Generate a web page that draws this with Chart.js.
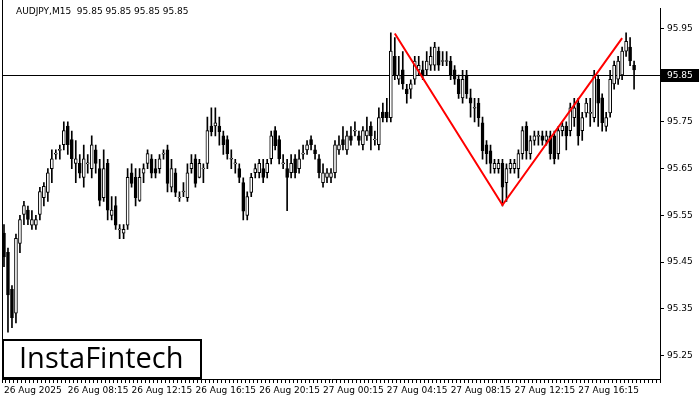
<!DOCTYPE html>
<html>
<head>
<meta charset="utf-8">
<script src="https://cdn.jsdelivr.net/npm/chart.js@4.4.1/dist/chart.umd.min.js"></script>
<style>
  html, body { margin: 0; padding: 0; background: #fff; }
  #wrap { width: 700px; height: 400px; }
</style>
</head>
<body>
<div id="wrap"><canvas id="c"></canvas></div>
<script>
var symbolTitle = 'AUDJPY,M15  95.85 95.85 95.85 95.85';
var currentPrice = 95.85;
var slotCount = 165;
var timeLabels = ['26 Aug 2025', '26 Aug 08:15', '26 Aug 12:15', '26 Aug 16:15', '26 Aug 20:15',
                  '27 Aug 00:15', '27 Aug 04:15', '27 Aug 08:15', '27 Aug 12:15', '27 Aug 16:15'];
var yTicks = [95.25, 95.35, 95.45, 95.55, 95.65, 95.75, 95.85, 95.95];

var opens = [95.512,95.471,95.392,95.341,95.490,95.552,95.561,95.529,95.529,95.552,95.588,95.599,95.650,95.681,95.689,95.701,
  95.741,95.712,95.661,95.661,95.631,95.660,95.650,95.690,95.650,95.588,95.661,95.550,95.571,95.519,95.512,95.529,
  95.641,95.631,95.582,95.640,95.661,95.671,95.650,95.650,95.681,95.690,95.610,95.641,95.587,95.600,95.588,95.650,
  95.671,95.631,95.649,95.661,95.741,95.741,95.741,95.720,95.712,95.670,95.660,95.650,95.620,95.550,95.599,95.641,
  95.641,95.650,95.641,95.671,95.731,95.712,95.660,95.650,95.641,95.671,95.650,95.681,95.690,95.712,95.690,95.671,
  95.620,95.631,95.631,95.641,95.690,95.712,95.690,95.720,95.730,95.720,95.701,95.720,95.741,95.711,95.701,95.771,
  95.771,95.759,95.890,95.841,95.861,95.820,95.820,95.841,95.861,95.861,95.861,95.871,95.871,95.901,95.879,95.879,
  95.880,95.861,95.841,95.801,95.850,95.801,95.779,95.790,95.748,95.701,95.688,95.650,95.650,95.661,95.620,95.650,
  95.650,95.650,95.682,95.741,95.682,95.710,95.719,95.720,95.710,95.720,95.720,95.682,95.731,95.741,95.731,95.759,
  95.790,95.731,95.769,95.768,95.759,95.841,95.801,95.740,95.769,95.831,95.841,95.850,95.901,95.910,95.871];
var closes = [95.461,95.380,95.331,95.501,95.541,95.571,95.541,95.541,95.541,95.601,95.612,95.641,95.671,95.683,95.691,95.731,
  95.701,95.671,95.671,95.640,95.671,95.662,95.701,95.661,95.582,95.650,95.561,95.561,95.529,95.521,95.520,95.631,
  95.618,95.588,95.631,95.650,95.682,95.640,95.640,95.671,95.683,95.618,95.650,95.599,95.589,95.602,95.641,95.661,
  95.618,95.661,95.651,95.731,95.729,95.748,95.729,95.701,95.682,95.672,95.662,95.631,95.559,95.590,95.631,95.650,
  95.661,95.631,95.661,95.720,95.699,95.671,95.662,95.631,95.661,95.641,95.671,95.683,95.701,95.701,95.682,95.641,
  95.641,95.641,95.641,95.701,95.701,95.701,95.720,95.710,95.732,95.710,95.731,95.731,95.720,95.713,95.759,95.759,
  95.759,95.901,95.850,95.850,95.831,95.810,95.831,95.880,95.871,95.850,95.880,95.890,95.910,95.871,95.881,95.881,
  95.850,95.841,95.810,95.841,95.810,95.790,95.781,95.759,95.688,95.682,95.661,95.661,95.661,95.610,95.650,95.661,
  95.661,95.682,95.731,95.688,95.710,95.720,95.721,95.710,95.720,95.682,95.671,95.731,95.741,95.720,95.780,95.780,
  95.720,95.759,95.790,95.770,95.850,95.790,95.748,95.759,95.841,95.871,95.880,95.901,95.922,95.880,95.861];
var highs = [95.53,95.48,95.40,95.51,95.55,95.58,95.57,95.56,95.55,95.61,95.62,95.65,95.69,95.69,95.70,95.75,
  95.75,95.73,95.71,95.68,95.70,95.68,95.72,95.70,95.67,95.69,95.67,95.59,95.59,95.53,95.53,95.65,
  95.66,95.65,95.65,95.66,95.69,95.68,95.67,95.68,95.69,95.70,95.67,95.65,95.60,95.62,95.66,95.68,
  95.68,95.67,95.66,95.76,95.78,95.78,95.76,95.73,95.72,95.69,95.67,95.66,95.63,95.60,95.64,95.66,
  95.67,95.67,95.67,95.73,95.74,95.72,95.68,95.67,95.68,95.68,95.69,95.70,95.71,95.72,95.70,95.68,
  95.66,95.65,95.65,95.71,95.72,95.74,95.73,95.74,95.75,95.73,95.74,95.76,95.75,95.73,95.78,95.79,
  95.80,95.94,95.93,95.89,95.90,95.83,95.84,95.89,95.89,95.88,95.90,95.91,95.92,95.91,95.90,95.90,
  95.89,95.87,95.85,95.86,95.86,95.82,95.80,95.80,95.76,95.71,95.70,95.67,95.67,95.67,95.66,95.67,
  95.67,95.69,95.74,95.75,95.72,95.73,95.73,95.73,95.73,95.73,95.73,95.74,95.75,95.75,95.79,95.80,
  95.80,95.77,95.80,95.80,95.86,95.85,95.81,95.77,95.86,95.88,95.89,95.91,95.94,95.93,95.88];
var lows = [95.44,95.30,95.31,95.32,95.47,95.53,95.53,95.52,95.52,95.54,95.57,95.58,95.62,95.67,95.67,95.69,
  95.68,95.65,95.62,95.63,95.61,95.64,95.63,95.64,95.57,95.58,95.54,95.54,95.52,95.50,95.50,95.52,
  95.61,95.57,95.58,95.62,95.65,95.63,95.63,95.64,95.67,95.60,95.60,95.59,95.58,95.59,95.58,95.64,
  95.61,95.63,95.62,95.65,95.72,95.72,95.70,95.68,95.67,95.65,95.64,95.62,95.54,95.54,95.59,95.63,
  95.63,95.62,95.63,95.66,95.69,95.66,95.65,95.56,95.63,95.63,95.64,95.67,95.68,95.69,95.67,95.63,
  95.61,95.62,95.62,95.63,95.68,95.69,95.68,95.70,95.72,95.70,95.69,95.71,95.69,95.70,95.69,95.75,
  95.75,95.75,95.84,95.83,95.82,95.79,95.80,95.83,95.85,95.84,95.85,95.86,95.86,95.86,95.87,95.87,
  95.84,95.83,95.80,95.79,95.80,95.76,95.75,95.74,95.67,95.66,95.64,95.64,95.64,95.57,95.58,95.64,
  95.64,95.63,95.67,95.67,95.67,95.70,95.70,95.70,95.70,95.67,95.66,95.67,95.72,95.69,95.72,95.74,
  95.70,95.71,95.76,95.74,95.75,95.74,95.73,95.73,95.76,95.82,95.83,95.84,95.89,95.87,95.82];

// double bottom pattern: bar index -> price
var patternIdx = [98, 125, 155];
var patternPrice = [95.939, 95.572, 95.929];

var labels = [];
for (var i = 0; i < slotCount; i++) {
  labels.push(i % 16 === 0 && timeLabels[i / 16] ? timeLabels[i / 16] : '');
}
var bodies = [], wicks = [], bodyFill = [];
for (var i = 0; i < opens.length; i++) {
  bodies.push([opens[i], closes[i]]);
  wicks.push([lows[i], highs[i]]);
  bodyFill.push(closes[i] >= opens[i] ? '#ffffff' : '#000000');
}
var pattern = labels.map(function () { return null; });
patternIdx.forEach(function (ix, k) { pattern[ix] = patternPrice[k]; });

var font = { family: 'DejaVu Sans', size: 9 };

var extras = {
  id: 'extras',
  beforeDatasetsDraw: function (chart) {
    var ctx = chart.ctx, a = chart.chartArea, y = chart.scales.y;
    var py = Math.round(y.getPixelForValue(currentPrice)) + 0.5;
    ctx.save();
    ctx.strokeStyle = '#000';
    ctx.lineWidth = 1;
    ctx.beginPath();
    ctx.moveTo(a.left, py); ctx.lineTo(a.right, py);
    ctx.moveTo(a.left + 0.5, 0); ctx.lineTo(a.left + 0.5, a.bottom);
    ctx.stroke();
    ctx.restore();
  },
  afterDraw: function (chart) {
    var ctx = chart.ctx, a = chart.chartArea, y = chart.scales.y;
    var py = Math.round(y.getPixelForValue(currentPrice));
    ctx.save();
    ctx.fillStyle = '#000';
    ctx.font = '9px "DejaVu Sans"';
    ctx.textBaseline = 'middle';
    ctx.fillText(symbolTitle, 16, 12);
    ctx.fillRect(a.right + 1, py - 6, 38, 13);
    ctx.fillStyle = '#fff';
    ctx.fillText(currentPrice.toFixed(2), a.right + 7, py + 1);
    // logo
    ctx.fillStyle = '#fff';
    ctx.fillRect(3, 340, 198, 38);
    ctx.strokeStyle = '#000';
    ctx.lineWidth = 2;
    ctx.strokeRect(3, 340, 198, 38);
    ctx.fillStyle = '#000';
    ctx.font = '29px "Open Sans"';
    ctx.fillText('InstaFintech', 19, 360);
    ctx.restore();
  }
};

new Chart(document.getElementById('c'), {
  data: {
    labels: labels,
    datasets: [
      { type: 'line', data: pattern, spanGaps: true, borderColor: '#ff0000', borderWidth: 2,
        pointRadius: 0, order: -1 },
      { type: 'bar', data: bodies, backgroundColor: bodyFill, borderColor: '#000', borderWidth: 1,
        borderSkipped: false, barThickness: 3, grouped: false, order: 0 },
      { type: 'bar', data: wicks, backgroundColor: '#000', borderWidth: 0,
        barThickness: 1, grouped: false, order: 1 }
    ]
  },
  options: {
    responsive: true, maintainAspectRatio: false, animation: false,
    layout: { padding: { top: 0, left: 2, right: 0, bottom: 0 } },
    plugins: { legend: { display: false }, tooltip: { enabled: false } },
    scales: {
      x: {
        type: 'category', offset: true,
        grid: { drawOnChartArea: false, tickLength: 4, color: '#000' },
        border: { color: '#000' },
        ticks: { autoSkip: false, maxRotation: 0, align: 'start', color: '#000', font: font, padding: 2 },
        afterFit: function (s) { s.height = 21; }
      },
      y: {
        position: 'right', min: 95.2, max: 95.9925,
        afterBuildTicks: function (s) { s.ticks = yTicks.map(function (v) { return { value: v }; }); },
        grid: { drawOnChartArea: false, tickLength: 4, color: '#000' },
        border: { color: '#000' },
        ticks: { color: '#000', font: font, padding: 3, callback: function (v) { return v.toFixed(2); } },
        afterFit: function (s) { s.width = 40; }
      }
    }
  },
  plugins: [extras]
});
</script>
</body>
</html>
